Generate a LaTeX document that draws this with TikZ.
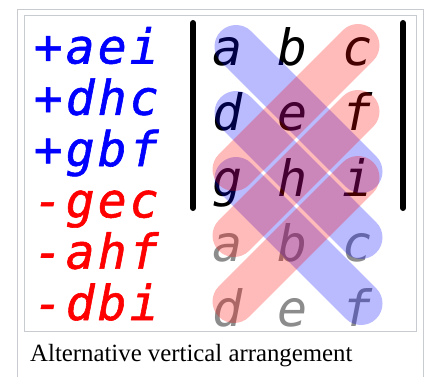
\documentclass[tikz,border=0pt]{standalone}
\usepackage{fontspec}
\setmainfont{Liberation Serif}
\newfontfamily\dvmono{DejaVu Sans Mono}
\newfontfamily\dvmonoheavy[FakeBold=1.2]{DejaVu Sans Mono}
\definecolor{framegray}{HTML}{C8CCD1}
\definecolor{lettergray}{HTML}{8C8C8C}
% one product term, each character in a fixed-width cell
\newcommand\termchars[4]{\makebox[32pt]{#1}\makebox[32pt]{#2}\makebox[32pt]{#3}\makebox[32pt]{#4}}

\begin{document}
\begin{tikzpicture}[x=1pt,y=-1pt,
  frame/.style={draw=framegray, line width=1pt},
  term/.style={anchor=base west, inner sep=0pt,
    font=\dvmonoheavy\itshape\fontsize{48}{48}\selectfont},
  entry/.style={anchor=base, inner sep=0pt,
    font=\dvmono\itshape\fontsize{50}{50}\selectfont},
  faded/.style={entry, text=lettergray},
  bar/.style={line width=6pt, line cap=round},
  band/.style={line width=43pt, line cap=round, opacity=0.27}]

\useasboundingbox (0,0) rectangle (428,377);
\fill[white] (0,0) rectangle (428,377);

% thumbnail frame and image box
\draw[frame] (17.5,377) -- (17.5,9.5) -- (423.5,9.5) -- (423.5,377);
\draw[frame, fill=white] (24.5,16) rectangle (416.5,331);

% the six products of the expansion
\node[term, text=blue] (p1) at (32,63.5)  {\termchars{+}{a}{e}{i}};
\node[term, text=blue] (p2) at (32,114.8) {\termchars{+}{d}{h}{c}};
\node[term, text=blue] (p3) at (32,166.1) {\termchars{+}{g}{b}{f}};
\node[term, text=red]  (m1) at (32,217.4) {\termchars{-}{g}{e}{c}};
\node[term, text=red]  (m2) at (32,268.7) {\termchars{-}{a}{h}{f}};
\node[term, text=red]  (m3) at (32,320)   {\termchars{-}{d}{b}{i}};

% determinant bars
\coordinate (lbt) at (193,23);  \coordinate (lbb) at (193,208);
\coordinate (rbt) at (403,23);  \coordinate (rbb) at (403,208);
\draw[bar] (lbt) -- (lbb);
\draw[bar] (rbt) -- (rbb);

% matrix entries
\node[entry] (a) at (228,66)  {a};
\node[entry] (b) at (293,66)  {b};
\node[entry] (c) at (358,66)  {c};
\node[entry] (d) at (228,131) {d};
\node[entry] (e) at (293,131) {e};
\node[entry] (f) at (358,131) {f};
\node[entry] (g) at (228,196) {g};
\node[entry] (h) at (293,196) {h};
\node[entry] (i) at (358,196) {i};
% first two rows repeated below
\node[faded] (a2) at (228,261) {a};
\node[faded] (b2) at (293,261) {b};
\node[faded] (c2) at (358,261) {c};
\node[faded] (d2) at (228,326) {d};
\node[faded] (e2) at (293,326) {e};
\node[faded] (f2) at (358,326) {f};

% positive diagonals
\coordinate (pa) at (236,46.5);  \coordinate (pi) at (361,171.5);
\coordinate (pd) at (236,112.5); \coordinate (pc) at (361,237.5);
\coordinate (pg) at (236,178.5); \coordinate (pf) at (361,303.5);
\draw[band, blue] (pa) -- (pi);
\draw[band, blue] (pd) -- (pc);
\draw[band, blue] (pg) -- (pf);

% negative diagonals
\coordinate (nc) at (358,45.5);  \coordinate (ng) at (234,169.5);
\coordinate (nf) at (358,111.5); \coordinate (na) at (234,235.5);
\coordinate (ni) at (358,177.5); \coordinate (nd) at (234,301.5);
\draw[band, red] (nc) -- (ng);
\draw[band, red] (nf) -- (na);
\draw[band, red] (ni) -- (nd);

% caption
\node[anchor=base west, inner sep=0pt, font=\fontsize{24.8}{28}\selectfont]
  (caption) at (30,361) {Alternative vertical arrangement};
\end{tikzpicture}
\end{document}
